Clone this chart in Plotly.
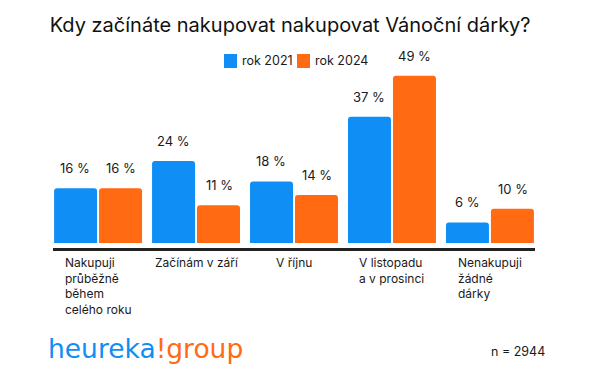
import plotly.graph_objects as go

categories = ["Nakupuji<br>průběžně<br>během<br>celého roku", "Začínám v září", "V říjnu",
              "V listopadu<br>a v prosinci", "Nenakupuji<br>žádné<br>dárky"]
series_names = ["rok 2021", "rok 2024"]
values_2021 = [16, 24, 18, 37, 6]
values_2024 = [16, 11, 14, 49, 10]

BLUE = "#0f8ff5"
ORANGE = "#ff6a12"
FONT = "Inter"
TEXT = "#1a1a1a"

x_idx = list(range(len(categories)))

fig = go.Figure()
for name, vals, col in [(series_names[0], values_2021, BLUE), (series_names[1], values_2024, ORANGE)]:
    fig.add_trace(go.Bar(x=x_idx, y=vals, name=name, showlegend=False,
                         marker=dict(color=col, cornerradius=3, line=dict(width=0)),
                         hoverinfo="skip"))

annotations = []
# value labels
for shift, vals in [(-23, values_2021), (23, values_2024)]:
    for i, v in enumerate(vals):
        annotations.append(dict(x=i, y=v, xref="x", yref="y", text=f"{v} %", showarrow=False,
                                xshift=shift, yshift=20, yanchor="middle",
                                font=dict(family=FONT, size=13, color=TEXT)))
# category labels (left-aligned lines, block centred on category)
for i, lab in enumerate(categories):
    annotations.append(dict(x=i, y=0, xref="x", yref="paper", text=lab, showarrow=False,
                            xanchor="center", yanchor="top", align="left", yshift=-5,
                            font=dict(family=FONT, size=12, color=TEXT)))

# custom legend (compact, like the reference)
shapes = []
legend_items = [(series_names[0], BLUE, 0.3548, 0.388), (series_names[1], ORANGE, 0.5062, 0.5394)]
for name, col, sx, tx in legend_items:
    shapes.append(dict(type="rect", xref="paper", yref="paper", x0=sx, x1=sx + 0.027,
                       y0=0.9574, y1=1.0319, fillcolor=col, line=dict(width=0)))
    annotations.append(dict(x=tx, y=0.9947, xref="paper", yref="paper", text=name, showarrow=False,
                            xanchor="left", yanchor="middle",
                            font=dict(family=FONT, size=12.5, color=TEXT)))

# logo
annotations.append(dict(x=-0.014, y=-0.532, xref="paper", yref="paper", showarrow=False,
                        xanchor="left", yanchor="middle",
                        text=f"<span style='color:{BLUE}'>heureka</span><span style='color:{ORANGE}'>!group</span>",
                        font=dict(family="DejaVu Sans", size=26.5)))
annotations.append(dict(x=1.025, y=-0.553, xref="paper", yref="paper", showarrow=False,
                        xanchor="right", yanchor="middle", text="n = 2944",
                        font=dict(family=FONT, size=12.5, color=TEXT)))

fig.update_layout(
    width=602, height=383,
    margin=dict(l=53, r=67, t=60, b=135),
    paper_bgcolor="white", plot_bgcolor="white",
    barmode="group", bargap=0.082, bargroupgap=0.044,
    title=dict(text="Kdy začínáte nakupovat nakupovat Vánoční dárky?", x=0.482, xref="container",
               y=0.935, yref="container", xanchor="center", yanchor="middle",
               font=dict(family=FONT, size=20, color="#111111")),
    xaxis=dict(range=[-0.46, 4.46], showline=True, linecolor="#222222", linewidth=2.5,
               showticklabels=False, showgrid=False, zeroline=False, ticks=""),
    yaxis=dict(range=[-1.5, 53.6], visible=False),
    annotations=annotations,
    shapes=shapes,
    showlegend=False,
)

fig.write_html("out.html", config={"displayModeBar": False},
               post_script="document.body.style.margin='0';")
